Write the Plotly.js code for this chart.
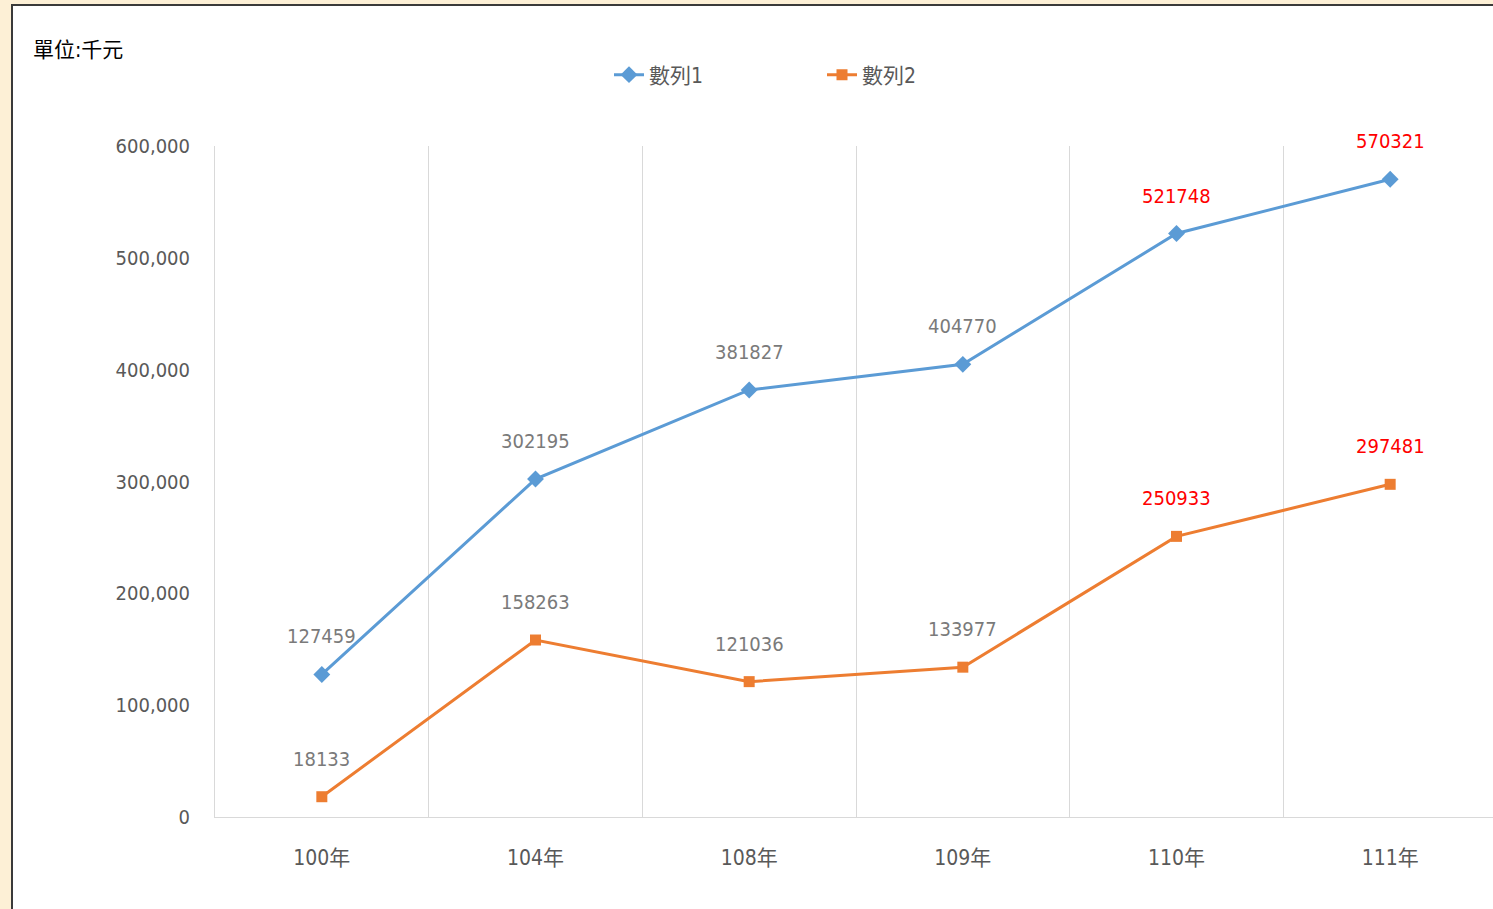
<!DOCTYPE html>
<html>
<head>
<meta charset="utf-8">
<script src="https://cdn.plot.ly/plotly-3.0.1.min.js"></script>
<style>
  html, body { margin: 0; padding: 0; width: 1493px; height: 909px; overflow: hidden; background: #FDF0D6; }
  #frame { position: absolute; left: 11px; top: 4px; width: 1520px; height: 920px; border-left: 2px solid #3a3a3a; border-top: 2px solid #3a3a3a; background: #fff; overflow: hidden; }
  #chart { width: 1500px; height: 903px; }
</style>
</head>
<body>
<div id="frame"><div id="chart"></div></div>
<script>
const categories = ['100年', '104年', '108年', '109年', '110年', '111年'];
const series1Name = '數列1';
const series2Name = '數列2';
const series1 = [127459, 302195, 381827, 404770, 521748, 570321];
const series2 = [18133, 158263, 121036, 133977, 250933, 297481];
const yTicks = [0, 100000, 200000, 300000, 400000, 500000, 600000];
const unitLabel = '單位:千元';

const FONT = '"Liberation Sans Narrow", "DejaVu Sans Condensed", "Noto Sans CJK TC", sans-serif';
const BLUE = '#5B9BD5', ORANGE = '#ED7D31';
const LABEL_GRAY = '#7a7a7a', HIGHLIGHT = '#FF0000';
const highlightFrom = 4;

const traces = [
  { x: categories, y: series1, name: series1Name, type: 'scatter', mode: 'lines+markers',
    line: { color: BLUE, width: 3 }, marker: { symbol: 'diamond', size: 13, color: BLUE } },
  { x: categories, y: series2, name: series2Name, type: 'scatter', mode: 'lines+markers',
    line: { color: ORANGE, width: 3 }, marker: { symbol: 'square', size: 11, color: ORANGE } }
];

const annotations = [];
[series1, series2].forEach(function (s) {
  s.forEach(function (v, i) {
    annotations.push({ x: categories[i], y: v, xref: 'x', yref: 'y', text: String(v), showarrow: false,
      yshift: 38, font: { family: FONT, size: 20, color: i >= highlightFrom ? HIGHLIGHT : LABEL_GRAY } });
  });
});

const layout = {
  width: 1500, height: 903,
  margin: { l: 202, r: 16, t: 140, b: 92 },
  paper_bgcolor: '#ffffff', plot_bgcolor: '#ffffff',
  font: { family: FONT, size: 20, color: '#595959' },
  title: { text: unitLabel, xref: 'container', yref: 'container', x: 20 / 1500, xanchor: 'left',
    y: 1 - 44 / 903, yanchor: 'middle', font: { family: FONT, size: 21, color: '#000000' } },
  showlegend: true,
  legend: { orientation: 'h', xref: 'container', yref: 'container', x: 596 / 1500, xanchor: 'left',
    y: 1 - 69 / 903, yanchor: 'middle', entrywidth: 168, font: { family: FONT, size: 21, color: '#595959' },
    bgcolor: 'rgba(0,0,0,0)' },
  xaxis: { type: 'category', range: [-0.5, 5.5], tickson: 'boundaries', showgrid: true, gridcolor: '#D9D9D9',
    gridwidth: 1, showline: true, linecolor: '#D9D9D9', linewidth: 1, ticks: '',
    ticklabelstandoff: 22, tickfont: { family: FONT, size: 21, color: '#595959' }, fixedrange: true },
  yaxis: { range: [0, 600000], tickvals: yTicks, tickformat: ',', showgrid: false, zeroline: false,
    showline: true, linecolor: '#D9D9D9', linewidth: 1, ticks: 'outside', ticklen: 20,
    tickcolor: 'rgba(0,0,0,0)', tickfont: { family: FONT, size: 20, color: '#595959' }, fixedrange: true },
  annotations: annotations
};

Plotly.newPlot('chart', traces, layout, { displayModeBar: false, staticPlot: true });
</script>
</body>
</html>
